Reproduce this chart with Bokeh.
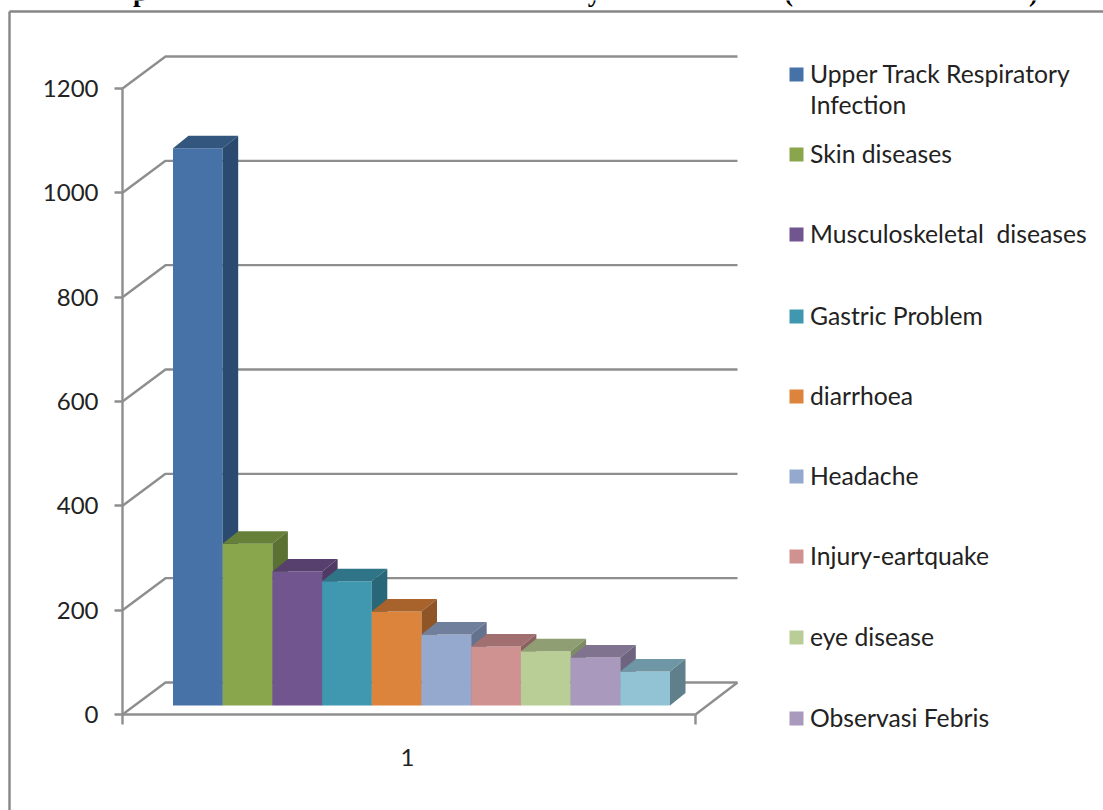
from bokeh.embed import file_html
from bokeh.resources import INLINE
from bokeh.plotting import figure
from bokeh.models import Range1d, LinearAxis, FixedTicker
from bokeh.core.properties import value

# ---- data ----
diseases = ["Upper Track Respiratory\nInfection", "Skin diseases", "Musculoskeletal\u00a0 diseases",
            "Gastric Problem", "diarrhoea", "Headache", "Injury-eartquake", "eye disease",
            "Observasi Febris", "Other"]
cases = [1068, 310, 257, 238, 180, 136, 113, 104, 92, 65]
front_colors = ["#4672A8", "#8AA64D", "#71558F", "#4098B0", "#DC833C", "#95A9CF", "#D09191", "#B9CE96", "#A999BD", "#92C3D5"]
top_colors = ["#33567F", "#66803A", "#573F6E", "#2F7587", "#A8622C", "#6F7F9C", "#A16F6F", "#8F9F73", "#80738F", "#6E96A4"]
side_colors = ["#2A4A6F", "#5A7133", "#4E3A64", "#296677", "#8F5527", "#64728D", "#8C6060", "#7D8C64", "#6F6480", "#5F7F8B"]
y_ticks = [0, 200, 400, 600, 800, 1000, 1200]
x_label = "1"
title_glyphs = ["p", "y", "(", ")"]  # the only parts of the title left legible at the cut top edge
legend_count = 9  # the tenth entry falls off the bottom of the picture

# ---- scale: window px <-> data ----
W, H = 1103, 810
SLOT = 49.7
PX_PER_UNIT = 626 / 1200
BAR_LEFT = 172.5
def X(px): return (px - BAR_LEFT) / SLOT
def Y(py): return (714 - py) / PX_PER_UNIT
FONT = "Lato"
GRAY = "#8E8E8E"

p = figure(width=W, height=H, output_backend="svg", toolbar_location=None,
           x_range=Range1d(X(0), X(W)), y_range=Range1d(Y(H), Y(0)),
           min_border=0, min_border_left=0, min_border_right=0, min_border_top=0, min_border_bottom=0,
           x_axis_type=None, y_axis_type=None, outline_line_color=None)
p.grid.visible = False
p.background_fill_color = "white"

# clipped title remnants
for g, px in zip(title_glyphs, [140, 594, 788, 1033]):
    p.text([X(px)], [Y(-9)], text=[g], text_font=value("Liberation Serif"), text_font_style="bold",
           text_font_size="27px", text_color="#000000", text_baseline="alphabetic", text_align="center")

# outer frame, cut by the picture edges
p.segment([X(9), X(9)], [Y(11), Y(11)], [X(9), X(W)], [Y(H), Y(11)], line_color="#868686", line_width=2.4)

# 3D walls: gridlines go from the axis back to the wall, then across it
dx, dy = 43 / SLOT, 32 / PX_PER_UNIT
ax_x, wall_right = X(122), X(737)
for t in y_ticks:
    p.line([ax_x, ax_x + dx, wall_right], [t, t + dy, t + dy], line_color=GRAY, line_width=2.4)
p.line([X(695), wall_right], [0, dy], line_color=GRAY, line_width=2.4)
p.line([ax_x, X(695)], [0, 0], line_color=GRAY, line_width=2.4)

# bars
base = Y(705)
ddx, ddy = 15.5 / SLOT, 12.5 / PX_PER_UNIT
xs, ys, cs = [], [], []
for i, v in enumerate(cases):
    l, r, b, t = i, i + 1, base, base + v
    xs += [[l, r, r, l], [l, r, r + ddx, l + ddx], [r, r + ddx, r + ddx, r]]
    ys += [[b, b, t, t], [t, t, t + ddy, t + ddy], [b, b + ddy, t + ddy, t]]
    cs += [front_colors[i], top_colors[i], side_colors[i]]
p.patches(xs, ys, fill_color=cs, line_color=None)

# axes
yax = LinearAxis(ticker=FixedTicker(ticks=y_ticks), fixed_location=ax_x, bounds=(0, 1200))
yax.axis_line_color = GRAY
yax.axis_line_width = 2.4
yax.major_tick_line_color = GRAY
yax.major_tick_line_width = 2.4
yax.major_tick_out = 8
yax.major_tick_in = 0
yax.minor_tick_out = 0
yax.minor_tick_in = 0
yax.major_label_standoff = 16
yax.major_label_text_font = FONT
yax.major_label_text_font_size = "24px"
yax.major_label_text_color = "#222222"
p.add_layout(yax, "left")

centre = X(407)
xax = LinearAxis(ticker=FixedTicker(ticks=[centre], minor_ticks=[ax_x, X(695)]),
                 fixed_location=0, major_label_overrides={centre: x_label})
xax.axis_line_color = None
xax.major_tick_out = 0
xax.major_tick_in = 0
xax.minor_tick_out = 10
xax.minor_tick_in = 0
xax.minor_tick_line_color = GRAY
xax.minor_tick_line_width = 2.4
xax.major_label_standoff = 24
xax.major_label_text_font = FONT
xax.major_label_text_font_size = "24px"
xax.major_label_text_color = "#222222"
p.add_layout(xax, "below")

# legend
rows = [73, 153, 233, 315, 395, 475, 555, 636, 717]
for i, py in enumerate(rows[:legend_count]):
    p.scatter([X(796)], [Y(py + 1)], marker="square", size=14, fill_color=front_colors[i], line_color=None)
    for k, part in enumerate(diseases[i].split("\n")):
        p.text([X(809.5)], [Y(py + k * 31)], text=[part], text_font=value(FONT), text_font_size="24.7px",
               text_color="#222222", text_baseline="middle", text_align="left")

open("out.html", "w").write(file_html(p, INLINE))
